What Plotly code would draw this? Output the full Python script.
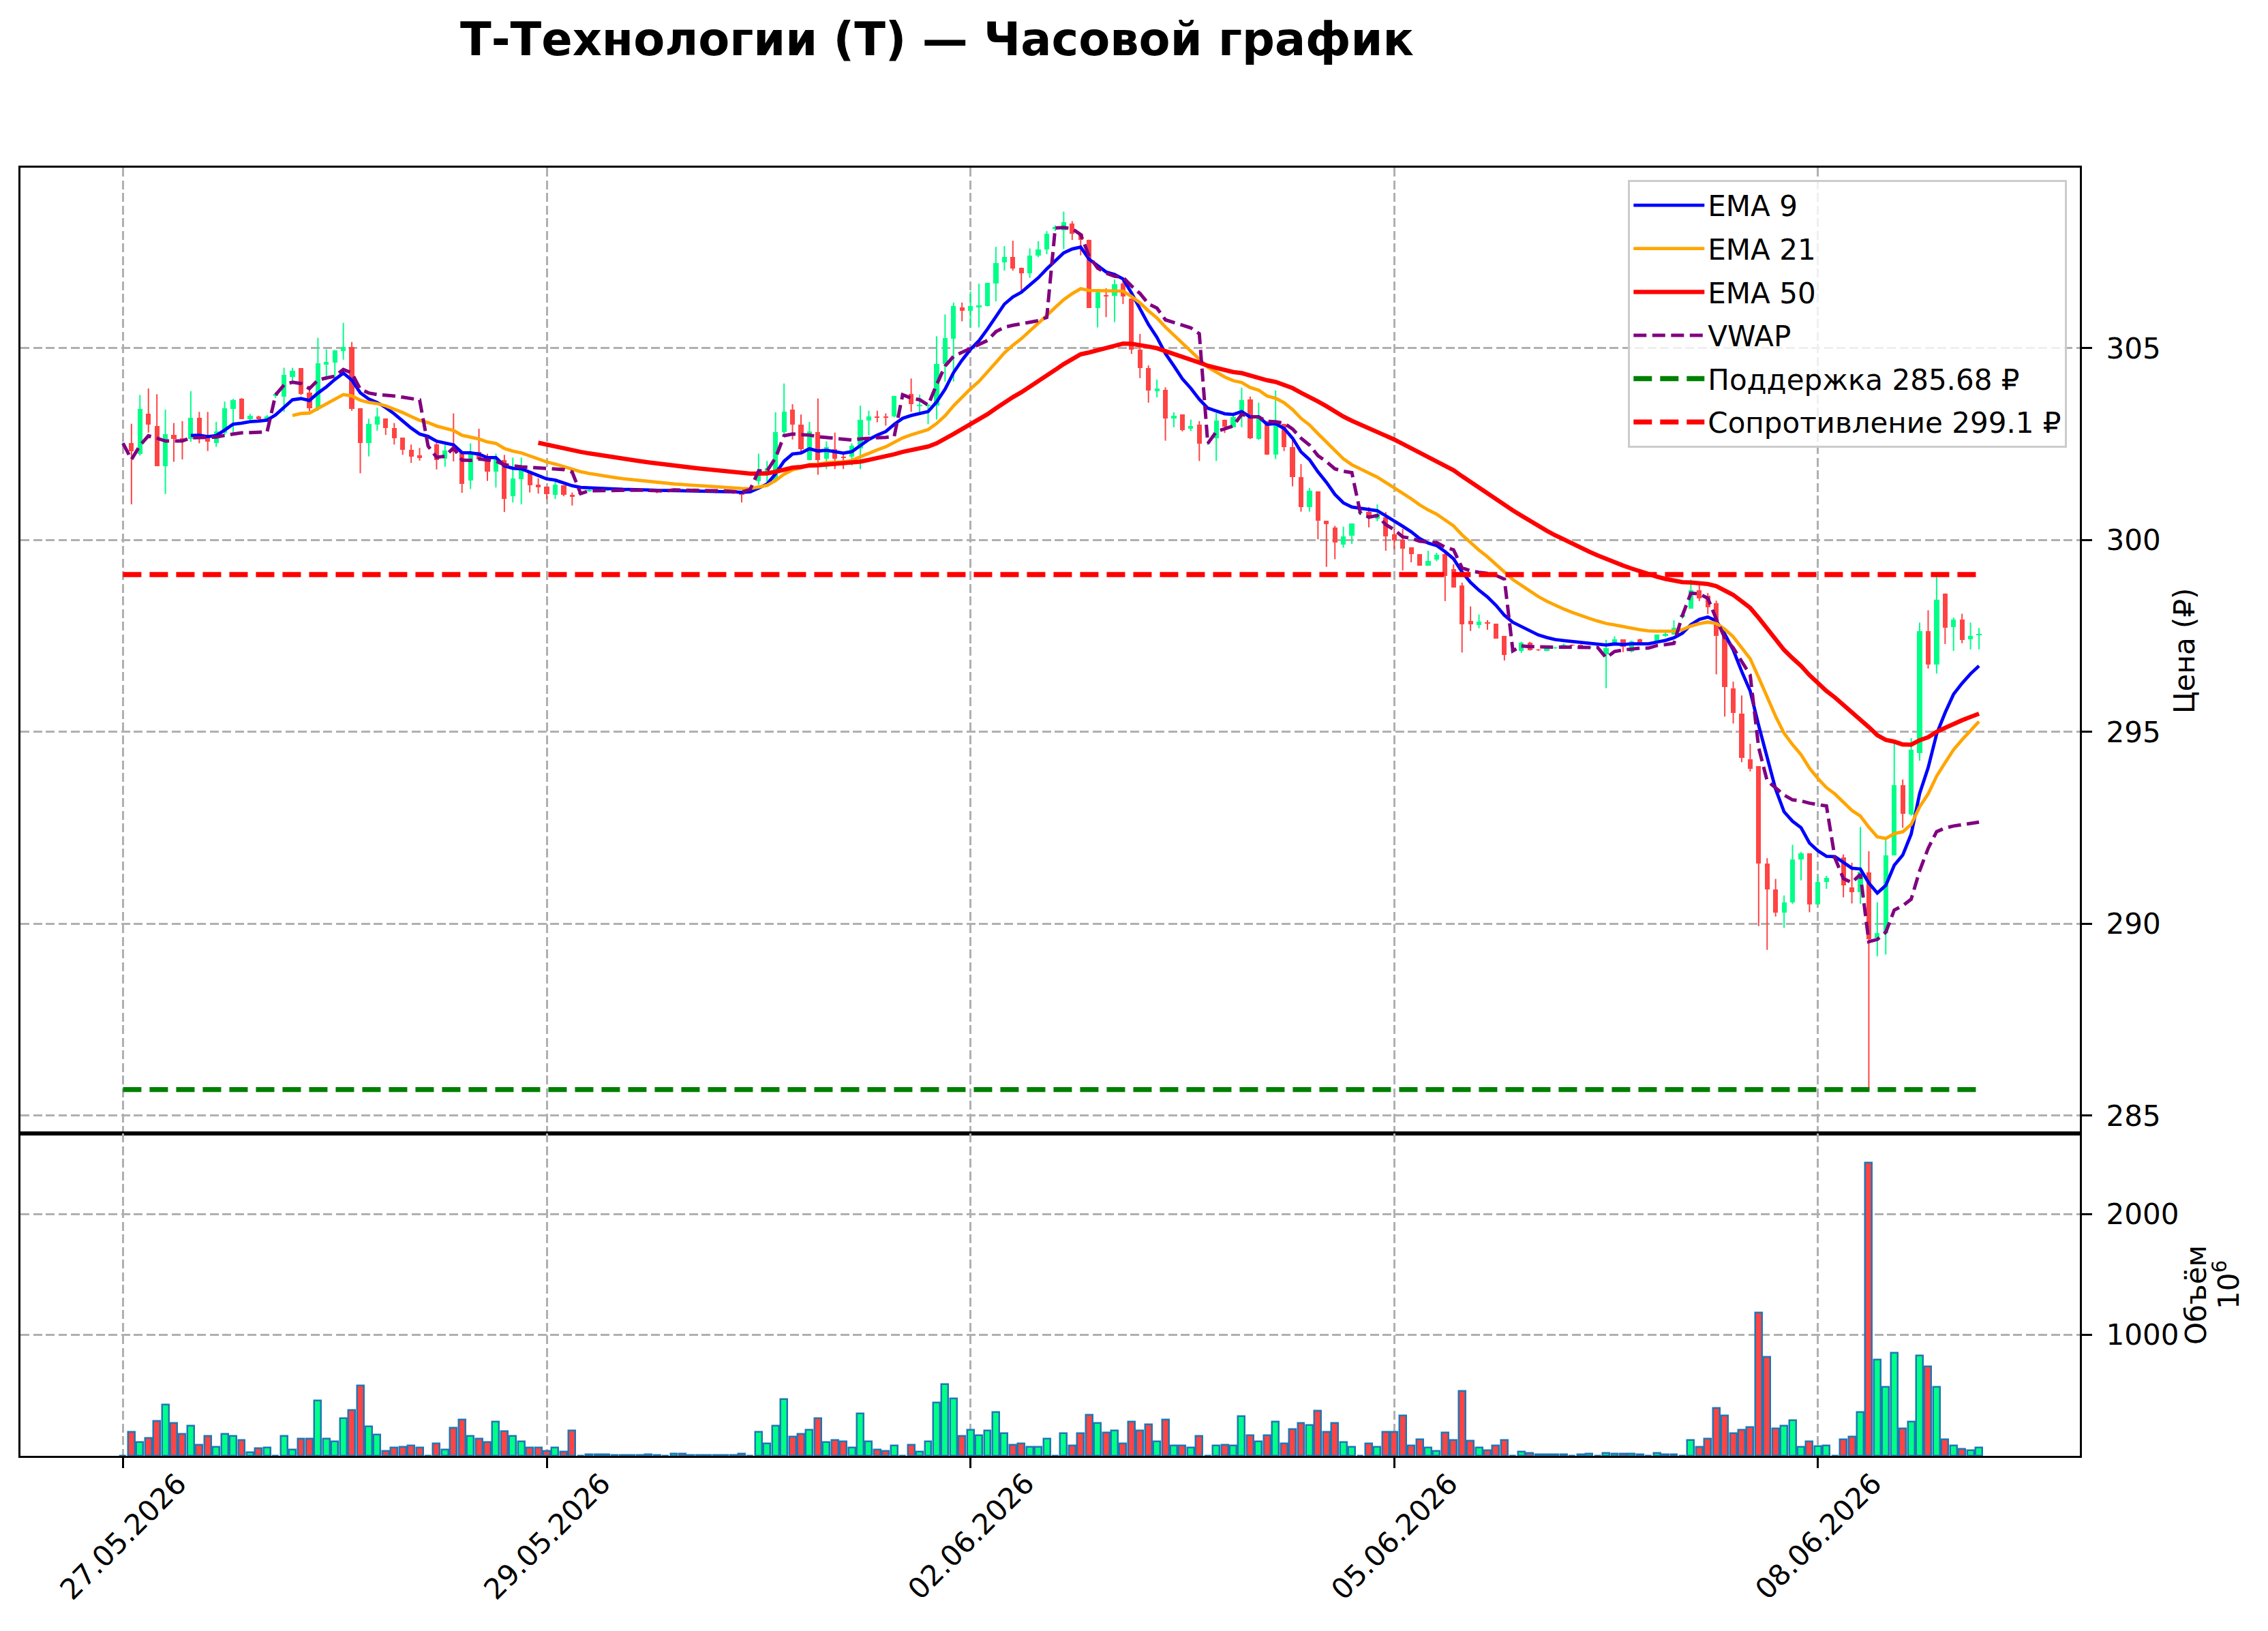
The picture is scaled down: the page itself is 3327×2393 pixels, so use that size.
import numpy as np
import pandas as pd
import plotly.graph_objects as go

# ---------------- data ----------------
open_ = [
    302.52, 302.52, 302.25, 303.30, 302.98, 301.93, 302.75, 302.66, 302.63, 303.19,
    302.73, 302.52, 302.80, 303.42, 303.68, 303.15, 303.22, 303.15, 303.75, 303.73,
    304.25, 304.48, 303.85, 303.42, 304.57, 304.63, 304.93, 305.03, 303.44, 302.52,
    303.00, 303.17, 302.92, 302.67, 302.35, 302.20, 302.45, 302.49, 302.12, 302.37,
    302.32, 301.56, 302.30, 302.12, 301.78, 302.08, 301.14, 301.59, 301.74, 301.44,
    301.40, 301.18, 301.43, 301.17, 301.22, 301.28, 301.30, 301.29, 301.33, 301.30,
    301.28, 301.32, 301.29, 301.27, 301.28, 301.28, 301.32, 301.28, 301.27, 301.27,
    301.26, 301.25, 301.24, 301.25, 301.30, 301.54, 301.71, 301.54, 302.81, 303.39,
    303.01, 302.08, 302.81, 302.12, 302.37, 302.18, 302.18, 302.39, 303.12, 303.22,
    303.22, 303.22, 303.78, 303.80, 303.50, 303.49, 303.51, 304.59, 305.24, 306.07,
    305.98, 306.07, 306.09, 306.68, 307.24, 307.37, 307.10, 306.95, 307.41, 307.58,
    308.10, 308.07, 308.24, 307.98, 307.83, 306.04, 306.38, 306.36, 306.68, 306.29,
    304.97, 304.49, 303.87, 303.91, 303.17, 303.27, 302.90, 303.00, 302.52, 302.66,
    303.13, 302.94, 303.34, 303.66, 302.63, 303.10, 302.22, 303.03, 302.42, 301.64,
    300.86, 301.27, 300.50, 300.32, 299.89, 300.12, 300.70, 300.74, 300.56, 300.59,
    300.15, 300.01, 299.81, 299.63, 299.33, 299.49, 299.63, 299.24, 298.82, 297.90,
    297.79, 297.86, 297.82, 297.50, 297.10, 297.11, 297.33, 297.14, 297.12, 297.19,
    297.18, 297.27, 297.27, 297.20, 297.20, 297.02, 297.29, 297.41, 297.09, 297.41,
    297.30, 297.36, 297.50, 297.53, 298.00, 298.21, 298.69, 298.55, 298.35, 297.50,
    296.14, 295.48, 294.29, 294.11, 291.57, 290.90, 290.29, 290.56, 291.67, 291.83,
    290.50, 291.09, 291.70, 291.73, 290.95, 290.83, 291.33, 289.64, 289.76, 291.79,
    293.62, 292.84, 294.45, 297.63, 296.76, 298.61, 297.73, 297.93, 297.42, 297.53,
]
high = [
    302.55, 303.03, 303.78, 303.95, 303.80, 303.40, 303.05, 303.10, 303.88, 303.34,
    303.34, 303.08, 303.61, 303.68, 303.70, 303.29, 303.24, 303.26, 303.85, 304.49,
    304.49, 304.48, 304.02, 305.27, 304.97, 304.95, 305.66, 305.16, 303.44, 303.16,
    303.45, 303.17, 303.05, 302.67, 302.49, 302.40, 302.50, 302.53, 302.49, 303.30,
    302.32, 302.52, 302.90, 302.25, 302.25, 302.22, 302.15, 302.15, 301.74, 301.61,
    301.40, 301.58, 301.43, 301.24, 301.25, 301.32, 301.33, 301.35, 301.34, 301.32,
    301.34, 301.33, 301.31, 301.30, 301.30, 301.34, 301.33, 301.30, 301.29, 301.30,
    301.29, 301.28, 301.27, 301.28, 301.35, 302.25, 302.06, 303.33, 304.08, 303.54,
    303.27, 303.08, 303.69, 302.57, 302.80, 302.25, 302.52, 303.50, 303.37, 303.37,
    303.30, 303.76, 303.82, 304.21, 303.79, 303.54, 305.31, 305.88, 306.19, 306.19,
    306.48, 306.68, 306.70, 307.64, 307.66, 307.80, 307.10, 307.60, 307.79, 308.05,
    308.20, 308.56, 308.31, 307.98, 307.83, 306.53, 306.56, 306.79, 306.79, 306.29,
    305.37, 304.55, 304.18, 303.98, 303.33, 303.27, 303.14, 303.10, 302.55, 303.31,
    303.14, 303.29, 303.97, 303.74, 303.58, 303.10, 303.90, 303.03, 302.65, 301.98,
    301.36, 301.27, 300.50, 300.37, 300.35, 300.43, 300.75, 300.86, 300.93, 300.73,
    300.29, 300.29, 299.81, 299.63, 299.72, 299.67, 299.68, 299.37, 298.89, 298.27,
    298.06, 297.91, 297.82, 297.50, 297.14, 297.35, 297.35, 297.16, 297.22, 297.22,
    297.30, 297.28, 297.28, 297.23, 297.22, 297.40, 297.49, 297.41, 297.38, 297.43,
    297.32, 297.53, 297.60, 297.91, 298.10, 298.97, 298.82, 298.62, 298.42, 297.50,
    296.31, 295.95, 294.69, 294.11, 291.71, 291.17, 290.74, 292.06, 291.87, 291.83,
    291.25, 291.25, 291.78, 291.81, 291.59, 292.52, 291.89, 290.56, 292.20, 294.70,
    293.76, 294.84, 297.85, 298.17, 299.13, 298.61, 297.98, 298.08, 297.85, 297.71,
]
low = [
    302.50, 300.93, 302.20, 302.80, 301.93, 301.20, 302.04, 302.10, 302.56, 302.52,
    302.32, 302.43, 302.74, 302.74, 303.15, 303.13, 303.07, 303.10, 303.70, 303.34,
    304.12, 303.78, 303.36, 303.37, 304.17, 304.20, 304.70, 303.37, 301.74, 302.18,
    302.85, 302.74, 302.49, 302.22, 302.01, 302.07, 302.40, 301.84, 301.91, 302.05,
    301.23, 301.33, 302.07, 301.54, 301.37, 300.73, 300.98, 300.93, 301.24, 301.21,
    301.07, 301.07, 301.14, 300.90, 301.18, 301.26, 301.27, 301.28, 301.28, 301.26,
    301.27, 301.27, 301.25, 301.22, 301.26, 301.27, 301.26, 301.24, 301.25, 301.23,
    301.22, 301.22, 301.20, 300.98, 301.28, 301.44, 301.47, 301.50, 302.76, 302.62,
    302.25, 302.08, 301.70, 301.85, 301.85, 301.85, 301.94, 301.85, 302.73, 303.07,
    302.98, 303.20, 303.74, 303.34, 303.31, 303.02, 303.14, 304.13, 304.13, 305.70,
    305.54, 305.54, 306.09, 306.22, 307.02, 307.02, 306.49, 306.83, 307.37, 307.45,
    308.05, 307.58, 307.82, 307.42, 306.05, 305.54, 305.81, 305.68, 306.15, 304.85,
    304.22, 303.58, 303.72, 302.59, 302.94, 302.83, 302.84, 302.06, 302.48, 302.06,
    302.79, 302.94, 302.94, 302.63, 302.61, 302.22, 302.11, 302.32, 301.40, 300.74,
    300.74, 300.02, 299.30, 299.50, 299.80, 299.90, 300.65, 300.33, 300.49, 299.72,
    299.76, 299.21, 299.42, 299.33, 299.33, 299.45, 298.41, 298.76, 297.07, 297.63,
    297.70, 297.66, 297.43, 296.86, 297.08, 297.06, 297.12, 297.11, 297.10, 297.16,
    297.16, 297.24, 297.18, 297.17, 297.18, 296.14, 297.29, 297.08, 297.07, 297.29,
    297.28, 297.36, 297.48, 297.53, 297.95, 298.21, 298.41, 298.07, 296.50, 295.40,
    295.22, 294.21, 293.97, 289.94, 289.32, 290.19, 289.89, 290.52, 291.13, 290.30,
    290.50, 290.91, 291.65, 290.69, 290.53, 290.52, 285.68, 289.15, 289.20, 291.79,
    292.50, 292.82, 294.25, 296.65, 296.52, 297.29, 297.11, 297.31, 297.15, 297.15,
]
close = [
    302.52, 302.32, 303.41, 303.00, 301.93, 302.76, 302.63, 302.60, 303.19, 302.74,
    302.56, 302.83, 303.44, 303.64, 303.15, 303.24, 303.15, 303.23, 303.80, 304.30,
    304.41, 303.81, 303.44, 304.60, 304.64, 304.95, 305.03, 303.42, 302.52, 303.03,
    303.22, 302.92, 302.65, 302.35, 302.18, 302.14, 302.45, 302.08, 302.33, 302.29,
    301.47, 302.25, 302.10, 301.79, 302.15, 301.07, 301.61, 301.81, 301.42, 301.37,
    301.20, 301.44, 301.17, 301.14, 301.20, 301.30, 301.29, 301.33, 301.30, 301.28,
    301.32, 301.29, 301.27, 301.25, 301.28, 301.32, 301.28, 301.27, 301.27, 301.26,
    301.25, 301.24, 301.22, 301.18, 301.32, 301.74, 301.88, 302.81, 303.35, 303.00,
    302.37, 302.83, 302.08, 302.42, 302.12, 302.14, 302.46, 303.13, 303.22, 303.20,
    303.20, 303.76, 303.80, 303.54, 303.53, 303.53, 304.59, 305.27, 306.09, 305.98,
    306.09, 306.11, 306.70, 307.22, 307.37, 307.08, 306.95, 307.41, 307.58, 307.99,
    308.15, 308.29, 307.99, 307.83, 306.05, 306.46, 306.35, 306.66, 306.34, 304.97,
    304.49, 303.89, 303.95, 303.17, 303.24, 302.86, 302.97, 302.51, 302.52, 303.12,
    302.96, 303.20, 303.64, 302.65, 303.24, 302.22, 303.10, 302.42, 301.64, 300.86,
    301.29, 300.50, 300.41, 299.93, 300.09, 300.43, 300.72, 300.59, 300.69, 300.10,
    299.99, 299.78, 299.64, 299.33, 299.45, 299.61, 299.06, 298.76, 297.80, 297.80,
    297.88, 297.82, 297.43, 297.00, 297.12, 297.33, 297.13, 297.13, 297.19, 297.20,
    297.27, 297.26, 297.20, 297.21, 297.20, 297.19, 297.41, 297.22, 297.36, 297.29,
    297.30, 297.53, 297.55, 297.72, 298.05, 298.69, 298.48, 298.24, 297.50, 296.17,
    295.49, 294.33, 294.03, 291.57, 290.90, 290.29, 290.56, 291.68, 291.83, 290.50,
    291.09, 291.19, 291.72, 291.01, 290.83, 291.35, 289.60, 289.76, 291.79, 293.62,
    292.86, 294.53, 297.63, 296.76, 298.45, 297.71, 297.93, 297.39, 297.51, 297.55,
]
# volume, millions
volume = [
    2, 199, 110, 148, 285, 423, 269, 178, 247, 91,
    161, 76, 178, 161, 127, 28, 61, 70, 2, 161,
    53, 139, 139, 455, 139, 118, 309, 380, 583, 241,
    175, 42, 70, 76, 82, 66, 2, 99, 53, 231,
    298, 161, 139, 110, 281, 203, 161, 118, 66, 70,
    42, 66, 34, 209, 2, 13, 12, 13, 8, 6,
    8, 6, 10, 8, 2, 15, 19, 8, 3, 8,
    6, 6, 8, 19, 2, 199, 99, 250, 469, 156,
    178, 213, 309, 110, 127, 121, 70, 349, 121, 53,
    42, 85, 2, 91, 34, 118, 440, 594, 474, 161,
    213, 171, 207, 360, 184, 91, 104, 76, 76, 142,
    2, 184, 82, 184, 338, 271, 190, 207, 101, 281,
    207, 258, 121, 298, 82, 82, 66, 161, 2, 85,
    91, 82, 326, 167, 120, 167, 281, 104, 218, 269,
    256, 374, 199, 269, 110, 76, 2, 104, 76, 199,
    195, 332, 85, 133, 66, 38, 190, 129, 537, 123,
    70, 47, 82, 127, 2, 34, 23, 9, 9, 9,
    9, 2, 9, 15, 2, 25, 15, 15, 15, 9,
    2, 25, 9, 9, 2, 127, 76, 139, 395, 332,
    184, 217, 235, 1186, 815, 226, 249, 292, 75, 119,
    81, 85, 2, 136, 156, 363, 2424, 797, 571, 853,
    226, 282, 829, 740, 571, 137, 85, 56, 43, 70,
]
# index of the first candle of every trading session (VWAP resets there)
session_starts = [0, 18, 36, 54, 64, 74, 92, 110, 128, 146, 164, 174, 184, 202]
tick_index = [0, 50, 100, 150, 200]
tick_labels = ["27.05.2026", "29.05.2026", "02.06.2026", "05.06.2026", "08.06.2026"]
support_level = 285.68
resistance_level = 299.1
price_ticks = [285, 290, 295, 300, 305]
volume_ticks = [1000, 2000]

# ---------------- derived series ----------------
N = len(close)
idx = np.arange(N)
df = pd.DataFrame({"o": open_, "h": high, "l": low, "c": close, "v": volume})


def ema(span):
    return df["c"].ewm(span=span, adjust=False, min_periods=span).mean()


ema9, ema21, ema50 = ema(9), ema(21), ema(50)
session = np.zeros(N, dtype=int)
for s in session_starts:
    session[s:] += 1
tp = (df["h"] + df["l"] + df["c"]) / 3
df["pv"] = tp * df["v"]
vwap = df.groupby(session)["pv"].cumsum() / df.groupby(session)["v"].cumsum()

UP, DOWN = "#00ff88", "#ff4444"
is_up = df["c"] >= df["o"]
candle_colors = [UP if u else DOWN for u in is_up]

# wick paths per colour
wx = {True: [], False: []}
wy = {True: [], False: []}
for i in range(N):
    u = bool(is_up[i])
    wx[u] += [i, i, None]
    wy[u] += [low[i], high[i], None]

fig = go.Figure()

# candle bodies
fig.add_trace(go.Bar(
    x=idx, y=(df["c"] - df["o"]).abs(), base=np.minimum(df["o"], df["c"]),
    width=0.58, marker=dict(color=candle_colors, line=dict(width=0)),
    xaxis="x", yaxis="y", showlegend=False, hoverinfo="skip"))
for u, col in ((True, UP), (False, DOWN)):
    fig.add_trace(go.Scatter(x=wx[u], y=wy[u], mode="lines",
                             line=dict(color=col, width=2),
                             xaxis="x", yaxis="y", showlegend=False, hoverinfo="skip"))

lines = [
    ("EMA 9", ema9, "#0000ff", 4.8, "solid"),
    ("EMA 21", ema21, "#ffa500", 4.8, "solid"),
    ("EMA 50", ema50, "#ff0000", 6.3, "solid"),
    ("VWAP", vwap, "#800080", 5, "19px,8.5px"),
]
for k, (name, ser, col, w, dash) in enumerate(lines):
    fig.add_trace(go.Scatter(x=idx, y=ser, mode="lines", name=name,
                             legendgroup=f"g{k}",
                             line=dict(color=col, width=w, dash=dash),
                             xaxis="x", yaxis="y"))

x_span = [idx[0], idx[-1]]
fig.add_trace(go.Scatter(x=x_span, y=[support_level] * 2, mode="lines",
                         name=f"Поддержка {support_level} ₽", legendgroup="g4",
                         line=dict(color="#008000", width=7.3, dash="27px,12px"),
                         xaxis="x", yaxis="y"))
fig.add_trace(go.Scatter(x=x_span, y=[resistance_level] * 2, mode="lines",
                         name=f"Сопротивление {resistance_level} ₽", legendgroup="g5",
                         line=dict(color="#ff0000", width=7.3, dash="27px,12px"),
                         xaxis="x", yaxis="y"))

# volume
fig.add_trace(go.Bar(
    x=idx, y=volume, width=0.8,
    marker=dict(color=candle_colors, line=dict(color="#1f77b4", width=2.5)),
    xaxis="x2", yaxis="y2", showlegend=False, hoverinfo="skip"))

# ---------------- layout ----------------
W, H = 3327, 2393
L, R, T, B = 30, 3051, 246, 2136
split = 1663
plot_h = B - T
vol_top = (B - split) / plot_h

lo, hi = min(low), max(high)
pad = 0.05 * (hi - lo)
GRID = dict(showgrid=True, gridcolor="#b0b0b0", gridwidth=3.3, griddash="13px,5.5px")
FRAME = dict(showline=True, linecolor="black", linewidth=3.3, mirror=True, zeroline=False)
TICKF = dict(family="DejaVu Sans", size=42, color="black")

x_range = [-12.1, 230.9]

fig.update_layout(
    width=W, height=H, autosize=False,
    margin=dict(l=L, r=W - R, t=T, b=H - B, pad=0),
    paper_bgcolor="white", plot_bgcolor="white",
    font=dict(family="DejaVu Sans", size=42, color="black"),
    barmode="overlay", bargap=0,
    title=dict(text="<b>Т-Технологии (T) — Часовой график</b>",
               x=1374.5 / W, xref="container", xanchor="center",
               y=1 - 58 / H, yref="container", yanchor="middle",
               font=dict(family="DejaVu Sans", size=67, color="black")),
    showlegend=True,
    legend=dict(x=(3032 - L) / (R - L), y=1 - (264 - T) / plot_h,
                xanchor="right", yanchor="top",
                bgcolor="rgba(255,255,255,0.8)", bordercolor="#cccccc", borderwidth=3.3,
                font=dict(family="DejaVu Sans", size=42, color="black"),
                traceorder="grouped", tracegroupgap=6, itemwidth=104),
    xaxis=dict(domain=[0, 1], range=x_range, anchor="y", tickvals=tick_index,
               showticklabels=False, ticks="", **GRID, **FRAME),
    yaxis=dict(domain=[vol_top, 1], range=[lo - pad, hi + pad], side="right",
               anchor="x", tickvals=price_ticks, ticks="outside", ticklen=15,
               tickwidth=3.3, tickcolor="black", tickfont=TICKF,
               ticklabelstandoff=12, **GRID, **FRAME),
    xaxis2=dict(domain=[0, 1], range=x_range, anchor="y2", matches="x",
                tickvals=tick_index, showticklabels=False, ticks="outside",
                ticklen=15, tickwidth=3.3, tickcolor="black", **GRID, **FRAME),
    yaxis2=dict(domain=[0, vol_top], range=[0, 1.1 * max(volume)], side="right",
                anchor="x2", tickvals=volume_ticks, ticks="outside", ticklen=15,
                tickwidth=3.3, tickcolor="black", tickfont=TICKF,
                ticklabelstandoff=12, **GRID, **FRAME),
)

ann = []
for t, lab in zip(tick_index, tick_labels):
    ann.append(dict(x=t, xref="x2", y=-(2254 - B) / plot_h, yref="paper",
                    text=lab, textangle=-45, showarrow=False,
                    xanchor="center", yanchor="middle", font=TICKF))
ann.append(dict(x=(3204 - L) / (R - L), xref="paper", y=1 - (954 - T) / plot_h,
                yref="paper", text="Цена (₽)", textangle=-90, showarrow=False,
                xanchor="center", yanchor="middle", font=TICKF))
ann.append(dict(x=(3221 - L) / (R - L), xref="paper", y=1 - (1900 - T) / plot_h,
                yref="paper", text="Объём", textangle=-90, showarrow=False,
                xanchor="center", yanchor="middle", font=TICKF))
ann.append(dict(x=(3266 - L) / (R - L), xref="paper", y=1 - (1885 - T) / plot_h,
                yref="paper", text="10<sup>6</sup>", textangle=-90, showarrow=False,
                xanchor="center", yanchor="middle", font=TICKF))
fig.update_layout(annotations=ann)

fig.write_html("out.html")
